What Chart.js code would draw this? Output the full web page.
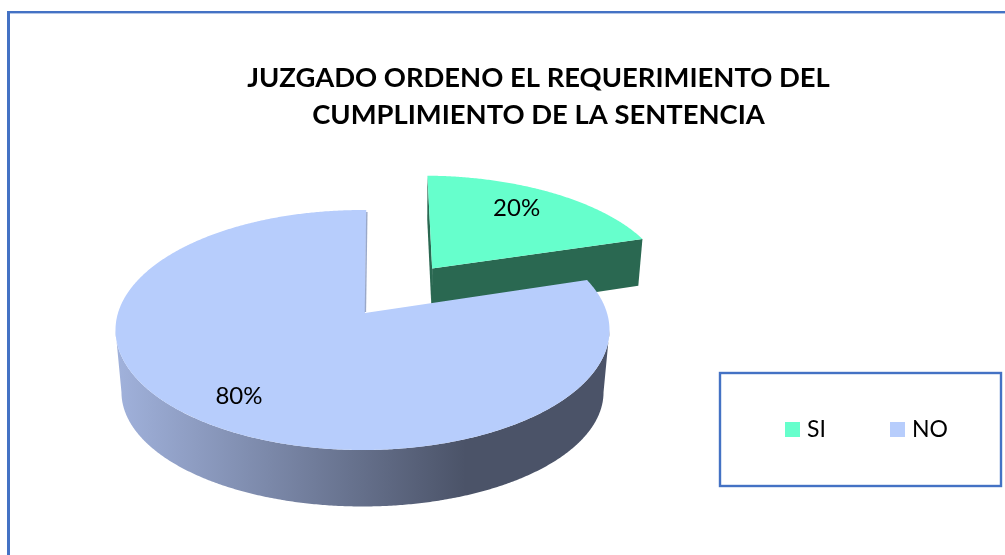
<!DOCTYPE html>
<html>
<head>
<meta charset="utf-8">
<script src="https://cdn.jsdelivr.net/npm/chart.js@4/dist/chart.umd.min.js"></script>
<style>
html,body{margin:0;padding:0;background:#fff;overflow:hidden}
canvas{display:block}
</style>
</head>
<body>
<canvas id="c" width="1005" height="555"></canvas>
<script>
const categories = ["SI", "NO"];
const values = [20, 80];
const sliceColors = ["#66ffcc", "#b7cdfc"];
const titleLines = ["JUZGADO ORDENO EL REQUERIMIENTO DEL", "CUMPLIMIENTO DE LA SENTENCIA"];

const FONT = "Lato, Carlito, 'Open Sans', sans-serif";
const K = 0.1417;
const TOP = {cx: 362.5, cy: 313, rx: 244.5, ry: 117.6};
const LOW_SI = {cx: 363.5, cy: 363, rx: 240, ry: 122.5};
const LOW_NO = {cx: 362.5, cy: 376, rx: 238.6, ry: 112};
const EXPLODE = [0.5, 0];
const LABEL_R = [0.75, 0.79];
const LABEL_FRAC = [0.46, 0.495];

function project(p, u, v) {
  const s = 1 / (1 + K * v);
  return [p.cx + p.rx * u * s, p.cy - p.ry * v * s];
}
function poly(ctx, pts, fill) {
  ctx.beginPath();
  pts.forEach((q, i) => i ? ctx.lineTo(q[0], q[1]) : ctx.moveTo(q[0], q[1]));
  ctx.closePath();
  ctx.fillStyle = fill;
  ctx.fill();
}
function rimPts(p, a0, a1, ou, ov) {
  const out = [], n = Math.ceil(Math.abs(a1 - a0) / 0.008);
  for (let i = 0; i <= n; i++) {
    const t = a0 + (a1 - a0) * i / n;
    out.push(project(p, ou + Math.sin(t), ov + Math.cos(t)));
  }
  return out;
}
const clockAngle = a => a + Math.PI / 2;

const pie3d = {
  id: "pie3d",
  beforeDraw(chart) {
    const ctx = chart.ctx;
    ctx.save();
    ctx.fillStyle = "#ffffff";
    ctx.fillRect(0, 0, chart.width, chart.height);
    ctx.fillStyle = "#4472c4";
    ctx.fillRect(7, 11, chart.width - 7, 2.4);
    ctx.fillRect(7, 11, 3, chart.height - 11);
    ctx.restore();
  },
  beforeDatasetDraw(chart) {
    const ctx = chart.ctx;
    const arcs = chart.getDatasetMeta(0).data;
    ctx.save();
    // exploded slice
    const a0 = clockAngle(arcs[0].startAngle), a1 = clockAngle(arcs[0].endAngle);
    const mid0 = (a0 + a1) / 2;
    const ou = EXPLODE[0] * Math.sin(mid0), ov = EXPLODE[0] * Math.cos(mid0);
    const dark = "#2a6851";
    poly(ctx, [project(TOP, ou, ov), project(TOP, ou + Math.sin(a0), ov + Math.cos(a0)),
               project(LOW_SI, ou + Math.sin(a0), ov + Math.cos(a0)), project(LOW_SI, ou, ov)], dark);
    poly(ctx, [project(TOP, ou, ov), project(TOP, ou + Math.sin(a1), ov + Math.cos(a1)),
               project(LOW_SI, ou + Math.sin(a1), ov + Math.cos(a1)), project(LOW_SI, ou, ov)], dark);
    poly(ctx, [project(TOP, ou, ov)].concat(rimPts(TOP, a0, a1, ou, ov)), arcs[0].options.backgroundColor);
    // main slice
    const b0 = clockAngle(arcs[1].startAngle), b1 = clockAngle(arcs[1].endAngle);
    const grad = ctx.createLinearGradient(115, 0, 609, 0);
    grad.addColorStop(0, "#a1b2dc");
    grad.addColorStop(0.71, "#4b5368");
    grad.addColorStop(1, "#4b5368");
    const f0 = Math.acos(-K), f1 = 2 * Math.PI - f0;
    poly(ctx, rimPts(TOP, f0, f1, 0, 0).concat(rimPts(LOW_NO, f1, f0, 0, 0)), grad);
    const apex = [TOP.cx + 2.5, TOP.cy];
    poly(ctx, [apex].concat(rimPts(TOP, b0, b1, 0, 0)), arcs[1].options.backgroundColor);
    const edge = project(TOP, Math.sin(b1), Math.cos(b1));
    ctx.strokeStyle = "#9aa8c8";
    ctx.lineWidth = 1.4;
    ctx.beginPath();
    ctx.moveTo(edge[0] + 0.6, edge[1] + 2);
    ctx.lineTo(apex[0] + 0.4, apex[1] - 1);
    ctx.stroke();
    ctx.restore();
    return false;
  },
  afterDatasetsDraw(chart) {
    const ctx = chart.ctx;
    const arcs = chart.getDatasetMeta(0).data;
    ctx.save();
    ctx.fillStyle = "#000";
    ctx.font = "24px " + FONT;
    ctx.textAlign = "center";
    ctx.textBaseline = "middle";
    arcs.forEach((arc, i) => {
      const s = clockAngle(arc.startAngle), e = clockAngle(arc.endAngle);
      const mid = (s + e) / 2, lab = s + (e - s) * LABEL_FRAC[i];
      const ex = EXPLODE[i], r = LABEL_R[i];
      const q = project(TOP, ex * Math.sin(mid) + r * Math.sin(lab), ex * Math.cos(mid) + r * Math.cos(lab));
      ctx.fillText(values[i] + "%", q[0], q[1]);
    });
    // legend
    ctx.font = "23px " + FONT;
    ctx.strokeStyle = "#4472c4";
    ctx.lineWidth = 2.4;
    ctx.strokeRect(720, 373, 281, 113);
    ctx.textAlign = "left";
    const xs = [785, 890];
    categories.forEach((name, i) => {
      ctx.fillStyle = sliceColors[i];
      ctx.fillRect(xs[i], 422, 15, 15);
      ctx.fillStyle = "#000";
      ctx.fillText(name, xs[i] + 22, 430);
    });
    ctx.restore();
  }
};

new Chart(document.getElementById("c"), {
  type: "pie",
  data: {
    labels: categories,
    datasets: [{data: values, backgroundColor: sliceColors, borderWidth: 0}]
  },
  options: {
    responsive: false,
    animation: false,
    rotation: 1,
    layout: {padding: {left: 72}},
    plugins: {
      legend: {display: false},
      tooltip: {enabled: false},
      title: {
        display: true,
        text: titleLines,
        color: "#000",
        font: {family: FONT, size: 27.4, weight: "bold", lineHeight: 1.35},
        padding: {top: 60, bottom: 0}
      }
    }
  },
  plugins: [pie3d]
});
</script>
</body>
</html>
